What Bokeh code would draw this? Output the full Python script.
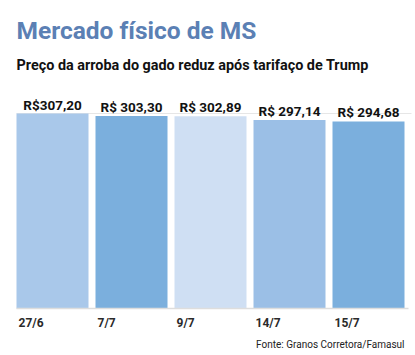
from bokeh.plotting import figure
from bokeh.models import Range1d, Label, ColumnDataSource
from bokeh.core.properties import value
from bokeh.embed import file_html
from bokeh.resources import INLINE

# ---- data ----
categories = ["27/6", "7/7", "9/7", "14/7", "15/7"]
prices = [307.20, 303.30, 302.89, 297.14, 294.68]
price_labels = ["R$307,20", "R$ 303,30", "R$ 302,89", "R$ 297,14", "R$ 294,68"]
bar_colors = ["#a9c8ea", "#7bafdd", "#cfdff3", "#9bbfe6", "#7bafdd"]

title_text = "Mercado físico de MS"
subtitle_text = "Preço da arroba do gado reduz após tarifaço de Trump"
source_text = "Fonte: Granos Corretora/Famasul"

# ---- layout (pixel geometry) ----
W, H = 415, 355
step = 79.0          # px between bar centers
first_center = 52.0  # px
bar_px = 72.0
base_py = 308.0      # px from top of baseline
top_py = 113.0       # px from top for the highest bar
k = (base_py - top_py) / max(prices)  # px per unit

x0 = (0 - first_center) / step
x1 = (W - first_center) / step
y0 = -(H - base_py) / k
y1 = base_py / k

p = figure(width=W, height=H, output_backend="svg", toolbar_location=None,
           x_range=Range1d(x0, x1), y_range=Range1d(y0, y1),
           x_axis_type=None, y_axis_type=None, min_border=0)
p.outline_line_color = None
p.background_fill_color = "white"
p.border_fill_color = "white"
p.xgrid.visible = False
p.ygrid.visible = False

idx = list(range(len(categories)))
src = ColumnDataSource(dict(x=idx, top=prices, color=bar_colors,
                            lab=price_labels, cat=categories,
                            left=[i - bar_px / step / 2 for i in idx]))

# reference lines
lx0 = -bar_px / step / 2
lx1 = (408 - first_center) / step
p.segment(x0=[lx0], x1=[(411 - first_center) / step], y0=[max(prices)], y1=[max(prices)],
          line_color="#e6e6e6", line_width=1)

p.vbar(x="x", top="top", bottom=0, width=bar_px / step, color="color",
       line_color=None, source=src)

p.segment(x0=[lx0], x1=[lx1], y0=[0], y1=[0], line_color="#dddddd", line_width=1.5)

# value labels
p.text(x="x", y="top", text="lab", source=src, text_align="center",
       text_baseline="alphabetic", y_offset=-9,
       text_font=value("Roboto"), text_font_style="bold", text_font_size="13.5px",
       text_color="#111111")

# category labels
p.text(x="left", y=0, text="cat", source=src, text_align="left",
       text_baseline="alphabetic", x_offset=2, y_offset=14,
       text_font=value("Roboto"), text_font_style="bold", text_font_size="12px",
       text_color="#2a2a2a")

p.add_layout(Label(x=16, y=H - 30, x_units="screen", y_units="screen",
                   text=title_text, text_font="Roboto", text_font_style="bold",
                   text_font_size="24.5px", text_color="#5b80b4",
                   text_baseline="alphabetic"))
p.add_layout(Label(x=16, y=H - 65, x_units="screen", y_units="screen",
                   text=subtitle_text, text_font="Roboto", text_font_style="bold",
                   text_font_size="14.4px", text_color="#111111",
                   text_baseline="alphabetic"))
p.add_layout(Label(x=404, y=H - 344, x_units="screen", y_units="screen",
                   text=source_text, text_font="Roboto", text_font_size="10px",
                   text_color="#222222", text_align="right",
                   text_baseline="alphabetic"))

open("out.html", "w").write(file_html(p, INLINE))
